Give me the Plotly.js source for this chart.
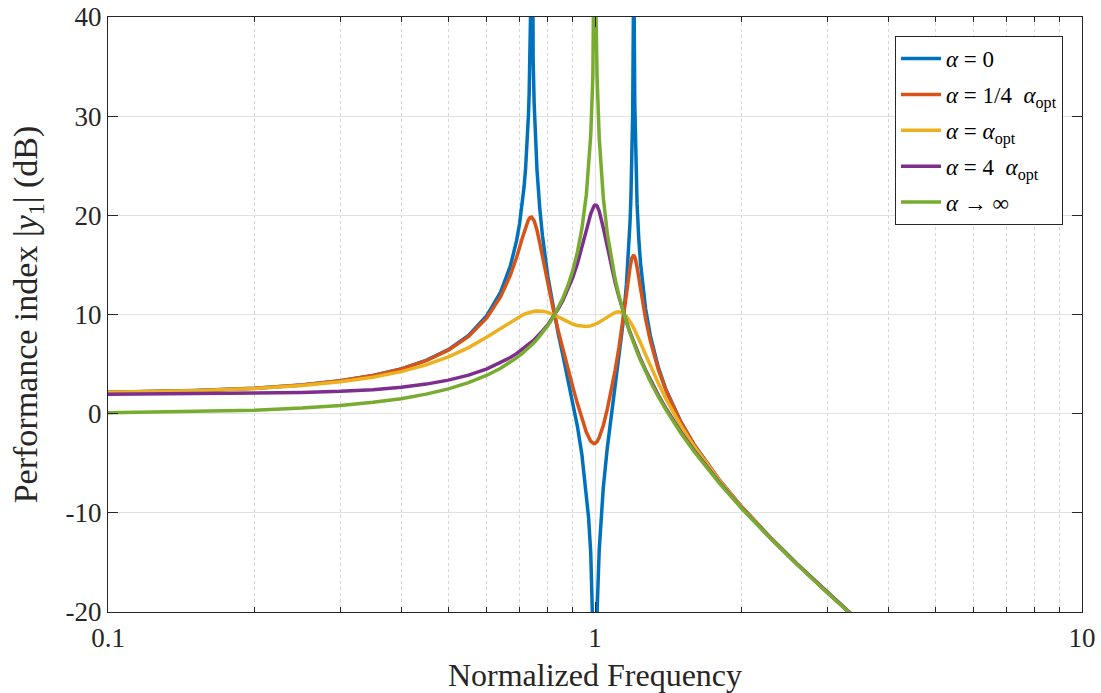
<!DOCTYPE html>
<html>
<head>
<meta charset="utf-8">
<script src="https://cdn.plot.ly/plotly-3.0.1.min.js"></script>
<style>
html,body{margin:0;padding:0;background:#fff;}
#chart{width:1101px;height:693px;}
</style>
</head>
<body>
<div id="chart"></div>
<script>
// Normalized frequency sampling (shared by the damped curves)
const freq = [0.1, 0.15, 0.2, 0.25, 0.3, 0.35, 0.4, 0.45, 0.5, 0.55, 0.6,
  0.64, 0.67, 0.69, 0.71, 0.72, 0.73, 0.735, 0.741, 0.75, 0.76, 0.77, 0.78,
  0.8, 0.82, 0.84, 0.86, 0.88, 0.9, 0.92, 0.94, 0.96, 0.98, 0.99, 0.995,
  1.0, 1.005, 1.01, 1.02, 1.04, 1.06, 1.08, 1.1, 1.12, 1.14, 1.16, 1.18, 1.19, 1.201,
  1.21, 1.22, 1.24, 1.27, 1.3, 1.35, 1.4, 1.5, 1.6, 1.8, 2.0, 2.3, 2.6, 3.0, 3.5];

// alpha = 0 (needs extra samples around its two resonances and its notch)
const freqAlpha0 = [0.1, 0.15, 0.2, 0.25, 0.3, 0.35, 0.4, 0.45, 0.5, 0.55, 0.6,
  0.64, 0.67, 0.69, 0.70, 0.71, 0.715, 0.72, 0.725, 0.73, 0.7325, 0.735, 0.738, 0.741, 0.744, 0.7465, 0.75, 0.755, 0.76, 0.77, 0.78,
  0.8, 0.82, 0.84, 0.86, 0.88, 0.9, 0.92, 0.94, 0.96, 0.97, 0.98, 0.99, 0.995,
  1.0, 1.005, 1.01, 1.02, 1.03, 1.04, 1.06, 1.08, 1.1, 1.12, 1.14, 1.16, 1.17, 1.18, 1.185, 1.19, 1.195, 1.1995, 1.201, 1.203, 1.207, 1.21, 1.215, 1.22, 1.23, 1.24,
  1.27, 1.3, 1.35, 1.4, 1.5, 1.6, 1.8, 2.0, 2.3, 2.6, 3.0, 3.5];
const dbAlpha0 = [2.16, 2.33, 2.57, 2.90, 3.32, 3.85, 4.52, 5.37, 6.46, 7.89, 9.90,
  12.25, 14.87, 17.42, 19.15, 21.41, 22.85, 24.62, 26.90, 30.07, 32.27, 35.25, 41.32, 70, 40.88, 35.64, 31.32, 27.39, 24.64, 20.76, 17.95,
  13.85, 10.74, 8.13, 5.77, 3.50, 1.21, -1.25, -4.13, -7.88, -10.45, -14.00, -20.02, -26.03,
  -60, -25.98, -19.92, -13.80, -10.14, -7.45, -3.43, -0.23, 2.69, 5.63, 8.89, 12.98, 15.67, 19.27, 21.72, 25.03, 30.24, 41.39, 60, 41.46, 31.21, 27.62, 23.78, 21.18, 17.63, 15.19,
  10.61, 7.78, 4.62, 2.39, -0.81, -3.17, -6.68, -9.37, -12.57, -15.17, -18.04, -21.02];

// alpha = 1/4 alpha_opt
const dbQuarterOpt = [2.16, 2.32, 2.57, 2.89, 3.31, 3.84, 4.50, 5.34, 6.40, 7.79, 9.68,
  11.79, 13.94, 15.74, 17.79, 18.79, 19.55, 19.76, 19.82, 19.46, 18.52, 17.23, 15.83,
  13.09, 10.61, 8.40, 6.39, 4.51, 2.73, 1.04, -0.53, -1.88, -2.78, -2.99, -3.02,
  -3.00, -2.93, -2.81, -2.42, -1.19, 0.45, 2.33, 4.40, 6.67, 9.20, 12.00, 14.74, 15.68, 16.00,
  15.64, 14.78, 12.59, 9.59, 7.27, 4.41, 2.28, -0.85, -3.18, -6.69, -9.37, -12.57, -15.17, -18.04, -21.02];

// alpha = alpha_opt
const dbOpt = [2.15, 2.31, 2.53, 2.83, 3.21, 3.67, 4.24, 4.92, 5.72, 6.66, 7.72,
  8.60, 9.24, 9.62, 9.95, 10.08, 10.19, 10.23, 10.28, 10.33, 10.36, 10.36, 10.34,
  10.22, 10.02, 9.77, 9.51, 9.25, 9.04, 8.88, 8.79, 8.78, 8.85, 8.91, 8.95,
  9.00, 9.05, 9.10, 9.22, 9.49, 9.78, 10.04, 10.22, 10.27, 10.14, 9.82, 9.31, 9.00, 8.63,
  8.31, 7.93, 7.15, 5.96, 4.81, 3.03, 1.45, -1.20, -3.35, -6.74, -9.39, -12.58, -15.17, -18.04, -21.02];

// alpha = 4 alpha_opt
const dbFourOpt = [1.95, 2.00, 2.06, 2.14, 2.25, 2.42, 2.66, 2.98, 3.38, 3.89, 4.52,
  5.13, 5.66, 6.05, 6.48, 6.71, 6.95, 7.07, 7.23, 7.46, 7.74, 8.03, 8.33,
  8.99, 9.72, 10.54, 11.47, 12.52, 13.73, 15.12, 16.72, 18.48, 20.15, 20.75, 20.94,
  21.04, 21.03, 20.93, 20.43, 18.73, 16.75, 14.89, 13.22, 11.75, 10.44, 9.27, 8.21, 7.72, 7.20,
  6.79, 6.36, 5.53, 4.40, 3.37, 1.85, 0.49, -1.82, -3.76, -6.93, -9.49, -12.62, -15.19, -18.05, -21.02];

// alpha -> infinity
const dbInf = [0.09, 0.20, 0.35, 0.56, 0.82, 1.14, 1.51, 1.97, 2.50, 3.13, 3.88,
  4.58, 5.18, 5.62, 6.09, 6.35, 6.61, 6.75, 6.92, 7.18, 7.49, 7.81, 8.14,
  8.87, 9.69, 10.62, 11.69, 12.93, 14.43, 16.27, 18.68, 22.11, 28.05, 34.02, 40.04,
  60, 39.98, 33.94, 27.87, 21.77, 18.16, 15.58, 13.56, 11.89, 10.47, 9.23, 8.13, 7.62, 7.08,
  6.67, 6.22, 5.39, 4.25, 3.22, 1.70, 0.36, -1.94, -3.86, -7.01, -9.54, -12.65, -15.21, -18.06, -21.02];

const seriesNames = [
  '<i>α</i> = 0',
  '<i>α</i> = 1/4\u2002<i>α</i><sub>opt</sub>',
  '<i>α</i> = <i>α</i><sub>opt</sub>',
  '<i>α</i> = 4\u2002<i>α</i><sub>opt</sub>',
  '<i>α</i> → ∞'
];
const seriesColors = ['#0072BD', '#D95319', '#EDB120', '#7E2F8E', '#77AC30'];

const xTickVals = [0.1, 1, 10];
const xTickText = ['0.1', '1', '10'];
const xMinorVals = [0.2, 0.3, 0.4, 0.5, 0.6, 0.7, 0.8, 0.9, 2, 3, 4, 5, 6, 7, 8, 9];
const yTickVals = [-20, -10, 0, 10, 20, 30, 40];
const yTickText = ['-20', '-10', '0', '10', '20', '30', '40'];

const xs = [freqAlpha0, freq, freq, freq, freq];
const ys = [dbAlpha0, dbQuarterOpt, dbOpt, dbFourOpt, dbInf];

const traces = ys.map((y, i) => ({
  x: xs[i], y: y, type: 'scatter', mode: 'lines', name: seriesNames[i],
  legendgroup: 'g' + i,
  line: {color: seriesColors[i], width: 3.5}
}));

const FAM = 'Liberation Serif';
const axisColor = '#262626';
const layout = {
  width: 1101, height: 693,
  margin: {l: 108, r: 19, t: 17, b: 81},
  paper_bgcolor: '#ffffff', plot_bgcolor: '#ffffff',
  font: {family: FAM, color: axisColor, size: 27},
  showlegend: true,
  xaxis: {
    type: 'log', range: [-1, 1],
    tickmode: 'array', tickvals: xTickVals, ticktext: xTickText,
    ticks: 'inside', ticklen: 10, tickwidth: 1, tickcolor: axisColor,
    showline: true, linecolor: axisColor, linewidth: 1.2, mirror: 'ticks',
    showgrid: true, gridcolor: '#e2e2e2', gridwidth: 1, zeroline: false,
    tickfont: {family: FAM, size: 27, color: axisColor}, ticklabelstandoff: 1,
    minor: {tickmode: 'array', tickvals: xMinorVals, ticks: 'inside', ticklen: 5, tickwidth: 1,
            tickcolor: axisColor, showgrid: true, gridcolor: '#d4d4d4', griddash: 'dot', gridwidth: 1},
    title: {text: 'Normalized Frequency', font: {family: FAM, size: 32, color: axisColor}, standoff: 17}
  },
  yaxis: {
    range: [-20, 40],
    tickmode: 'array', tickvals: yTickVals, ticktext: yTickText,
    ticks: 'inside', ticklen: 10, tickwidth: 1, tickcolor: axisColor,
    showline: true, linecolor: axisColor, linewidth: 1.2, mirror: 'ticks',
    showgrid: true, gridcolor: '#e2e2e2', gridwidth: 1, zeroline: false,
    tickfont: {family: FAM, size: 27, color: axisColor}, ticklabelstandoff: 0,
    title: {text: 'Performance index |<i>y</i><sub>1</sub>| (dB)', font: {family: FAM, size: 34, color: axisColor}, standoff: 17}
  },
  legend: {
    x: 0.9805, xanchor: 'right', y: 0.968, yanchor: 'top',
    bgcolor: '#ffffff', bordercolor: axisColor, borderwidth: 1,
    font: {family: FAM, size: 23, color: '#000000'}, itemwidth: 40, tracegroupgap: 3
  }
};

Plotly.newPlot('chart', traces, layout, {displayModeBar: false, staticPlot: true});
</script>
</body>
</html>
